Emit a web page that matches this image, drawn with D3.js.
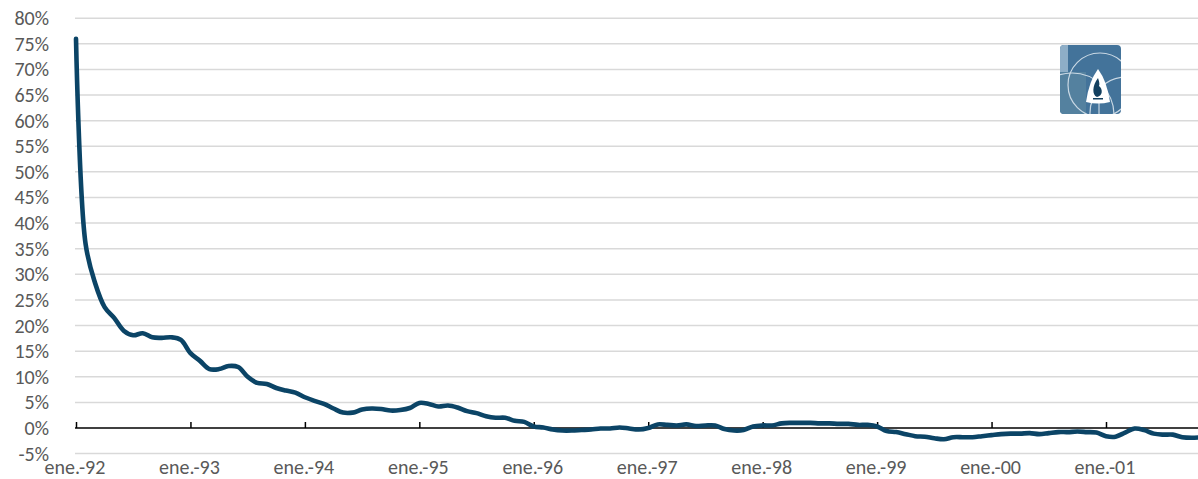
<!DOCTYPE html>
<html>
<head>
<meta charset="utf-8">
<script src="https://cdn.jsdelivr.net/npm/d3@7"></script>
<style>
  html, body { margin: 0; padding: 0; background: #fff; overflow: hidden; }
  text { font-family: Carlito, Calibri, Lato, sans-serif; fill: #595959; }
</style>
</head>
<body>
<script>
// monthly rate, % (ene.-92 onwards)
const y1992 = [76, 36, 28.3, 23.6, 21.5, 19, 18.1, 18.5, 17.7, 17.6, 17.7, 17.2];
const y1993 = [14.6, 13.1, 11.5, 11.5, 12.1, 11.9, 10, 8.8, 8.6, 7.8, 7.3, 6.9];
const y1994 = [6.0, 5.3, 4.7, 3.8, 3.0, 3.0, 3.6, 3.8, 3.7, 3.4, 3.5, 3.9];
const y1995 = [4.9, 4.7, 4.2, 4.4, 4.0, 3.3, 2.9, 2.3, 2.0, 2.0, 1.4, 1.2];
const y1996 = [0.3, 0.1, -0.3, -0.5, -0.5, -0.4, -0.3, -0.1, -0.1, 0.1, -0.1, -0.3];
const y1997 = [0.0, 0.7, 0.6, 0.5, 0.7, 0.4, 0.5, 0.5, -0.2, -0.5, -0.4, 0.3];
const y1998 = [0.5, 0.5, 0.9, 1.0, 1.0, 1.0, 0.9, 0.9, 0.8, 0.8, 0.6, 0.6];
const y1999 = [0.3, -0.6, -0.8, -1.2, -1.6, -1.7, -2.0, -2.2, -1.8, -1.8, -1.8, -1.6];
const y2000 = [-1.4, -1.2, -1.1, -1.1, -1.0, -1.2, -1.0, -0.8, -0.8, -0.7, -0.8, -0.9];
const y2001 = [-1.6, -1.7, -0.9, -0.1, -0.4, -1.1, -1.3, -1.3, -1.8, -1.9, -1.8];

const tickLabels = ['ene.-92', 'ene.-93', 'ene.-94', 'ene.-95', 'ene.-96',
  'ene.-97', 'ene.-98', 'ene.-99', 'ene.-00', 'ene.-01'];
const yTicks = [-5, 0, 5, 10, 15, 20, 25, 30, 35, 40, 45, 50, 55, 60, 65, 70, 75, 80];

window.onload = () => {
  const width = 1198,
    height = 479,
    left = 76,
    monthW = 9.537;

  const values = [].concat(y1992, y1993, y1994, y1995, y1996,
    y1997, y1998, y1999, y2000, y2001);

  const svg = d3
    .select('body')
    .append('svg')
    .attr('width', width)
    .attr('height', height);

  const x = d3.scaleLinear().domain([0, 120]).range([left, left + 120 * monthW]);
  const y = d3.scaleLinear().domain([-5, 80]).range([453.6, 18.2]);

  // gridlines
  svg.append('g')
    .selectAll('line')
    .data(yTicks.filter(d => d !== 0))
    .join('line')
    .attr('x1', left - 1)
    .attr('x2', width)
    .attr('y1', d => y(d))
    .attr('y2', d => y(d))
    .attr('stroke', '#d9d9d9')
    .attr('stroke-width', 1.5);

  // y labels
  svg.append('g')
    .selectAll('text')
    .data(yTicks)
    .join('text')
    .attr('x', 49)
    .attr('y', d => y(d))
    .attr('dy', '0.35em')
    .attr('text-anchor', 'end')
    .style('font-size', '20px')
    .text(d => d + '%');

  // zero axis with ticks pointing up
  const xAxis = d3.axisTop(x)
    .tickValues(d3.range(0, 120, 12))
    .tickSize(6)
    .tickFormat('');
  const ax = svg.append('g')
    .attr('transform', `translate(0,${y(0)})`)
    .call(xAxis);
  ax.select('.domain').remove();
  ax.selectAll('line').attr('stroke', '#000').attr('stroke-width', 1.5);
  ax.append('line')
    .attr('x1', left - 1)
    .attr('x2', width)
    .attr('stroke', '#000')
    .attr('stroke-width', 1.5);

  // x labels
  svg.append('g')
    .selectAll('text')
    .data(tickLabels)
    .join('text')
    .attr('x', (d, i) => x(i * 12) - 1)
    .attr('y', 474)
    .attr('text-anchor', 'middle')
    .style('font-size', '20px')
    .text(d => d);

  // series
  const line = d3.line()
    .x((d, i) => x(i))
    .y(d => y(d))
    .curve(d3.curveCatmullRom.alpha(0.5));

  svg.append('path')
    .datum(values)
    .attr('d', line)
    .attr('fill', 'none')
    .attr('stroke', '#0b4466')
    .attr('stroke-width', 4.6)
    .attr('stroke-linejoin', 'round')
    .attr('stroke-linecap', 'round');

  // logo
  const lx = 1060, ly = 45, lw = 61, lh = 69;
  const logo = svg.append('g');
  logo.append('clipPath')
    .attr('id', 'logoClip')
    .append('rect')
    .attr('x', lx).attr('y', ly).attr('width', lw).attr('height', lh).attr('rx', 4);
  const lg = logo.append('g').attr('clip-path', 'url(#logoClip)');
  lg.append('rect')
    .attr('x', lx).attr('y', ly).attr('width', lw).attr('height', lh)
    .attr('fill', '#43739a');
  lg.append('rect')
    .attr('x', lx).attr('y', ly).attr('width', 8).attr('height', 27)
    .attr('fill', '#8eaec7');
  lg.append('rect')
    .attr('x', lx).attr('y', ly + 27).attr('width', 26).attr('height', 42)
    .attr('fill', '#54819f');
  const arc = '#c9d8e4';
  lg.append('circle')
    .attr('cx', lx + 40).attr('cy', ly + 40).attr('r', 32)
    .attr('fill', 'none').attr('stroke', arc).attr('stroke-width', 1.2);
  lg.append('circle')
    .attr('cx', lx + 12).attr('cy', ly + 70).attr('r', 42)
    .attr('fill', 'none').attr('stroke', arc).attr('stroke-width', 1.2);
  lg.append('circle')
    .attr('cx', lx + 66).attr('cy', ly + 68).attr('r', 36)
    .attr('fill', 'none').attr('stroke', arc).attr('stroke-width', 1.2);
  lg.append('line')
    .attr('x1', lx + 39).attr('x2', lx + 39).attr('y1', ly + 56).attr('y2', ly + lh)
    .attr('stroke', arc).attr('stroke-width', 1.2);
  // white curved triangle
  const tx = lx + 38, ty = ly + 24;
  lg.append('path')
    .attr('d', `M${tx},${ty} Q${tx + 9},${ty + 12} ${tx + 12},${ty + 33} Q${tx},${ty + 36} ${tx - 12},${ty + 33} Q${tx - 9},${ty + 12} ${tx},${ty} Z`)
    .attr('fill', '#ffffff');
  // flame
  lg.append('path')
    .attr('d', `M${tx},${ty + 9} C${tx - 6},${ty + 17} ${tx - 6},${ty + 26} ${tx - 1},${ty + 28} C${tx + 5},${ty + 27} ${tx + 5},${ty + 20} ${tx + 1},${ty + 17} C${tx + 2},${ty + 15} ${tx + 1},${ty + 12} ${tx},${ty + 9} Z`)
    .attr('fill', '#13405f');
  lg.append('rect')
    .attr('x', tx - 5).attr('y', ty + 29).attr('width', 10).attr('height', 1.5)
    .attr('fill', '#13405f');
};
</script>
</body>
</html>
